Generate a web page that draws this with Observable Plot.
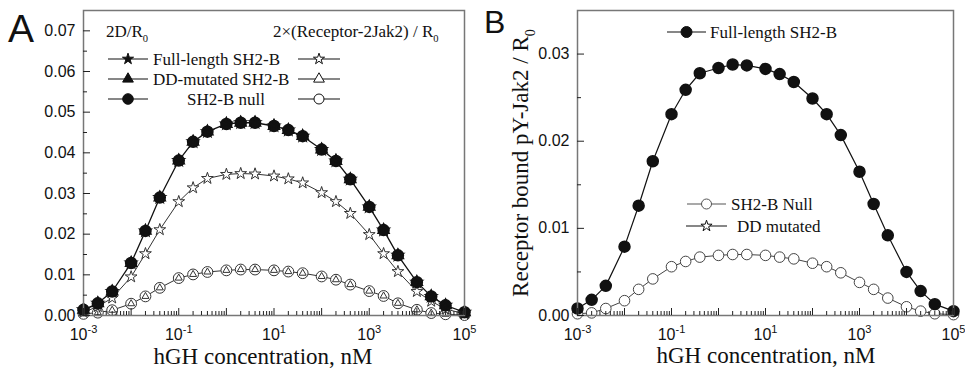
<!DOCTYPE html>
<html>
<head>
<meta charset="utf-8">
<script src="https://cdn.jsdelivr.net/npm/d3@7"></script>
<script src="https://cdn.jsdelivr.net/npm/@observablehq/plot@0.6"></script>
<style>
  html, body { margin: 0; padding: 0; background: #fff; }
  #wrap { position: relative; width: 965px; height: 377px; overflow: hidden; background: #fff; }
  #A, #B { position: absolute; top: 0; }
  #A { left: 0; }
  #B { left: 480px; }
  #overlay { position: absolute; left: 0; top: 0; pointer-events: none; }
</style>
</head>
<body>
<div id="wrap">
  <div id="A"></div>
  <div id="B"></div>
  <svg id="overlay" width="965" height="377"></svg>
</div>
<script>
// ---- data ----
const conc = [1e-3, 2e-3, 4e-3, 1e-2, 2e-2, 4e-2, 0.1, 0.2, 0.4, 1, 2, 4, 10, 20, 40, 100, 200, 400, 1000, 2000, 4000, 1e4, 2e4, 4e4, 1e5];

// Panel A: 2D/R0 (filled symbols; the three curves coincide)
const aFull2D = [0.0014, 0.0030, 0.0059, 0.0129, 0.0208, 0.0290, 0.0381, 0.0427, 0.0452, 0.0471, 0.0474, 0.0474, 0.0466, 0.0456, 0.0441, 0.0408, 0.0380, 0.0335, 0.0267, 0.0210, 0.0148, 0.0082, 0.0047, 0.0025, 0.0008];
const aDD2D   = [0.0014, 0.0030, 0.0059, 0.0129, 0.0208, 0.0290, 0.0381, 0.0427, 0.0452, 0.0471, 0.0474, 0.0474, 0.0466, 0.0456, 0.0441, 0.0408, 0.0380, 0.0335, 0.0267, 0.0210, 0.0148, 0.0082, 0.0047, 0.0025, 0.0008];
const aNull2D = [0.0014, 0.0030, 0.0059, 0.0129, 0.0208, 0.0290, 0.0381, 0.0427, 0.0452, 0.0471, 0.0474, 0.0474, 0.0466, 0.0456, 0.0441, 0.0408, 0.0380, 0.0335, 0.0267, 0.0210, 0.0148, 0.0082, 0.0047, 0.0025, 0.0008];
// Panel A: 2x(Receptor-2Jak2)/R0 (open symbols)
const aFullRJ = [0.0008, 0.0022, 0.0043, 0.0095, 0.0152, 0.0211, 0.0280, 0.0314, 0.0337, 0.0347, 0.0349, 0.0348, 0.0343, 0.0336, 0.0326, 0.0302, 0.0280, 0.0251, 0.0199, 0.0152, 0.0108, 0.0059, 0.0035, 0.0016, 0.0004];
const aDDRJ   = [0.0004, 0.0007, 0.0013, 0.0029, 0.0047, 0.0068, 0.0092, 0.0101, 0.0107, 0.0111, 0.0113, 0.0113, 0.0111, 0.0108, 0.0104, 0.0096, 0.0088, 0.0076, 0.0060, 0.0048, 0.0030, 0.0014, 0.0006, 0.0003, 0.0001];
const aNullRJ = [0.0004, 0.0007, 0.0013, 0.0029, 0.0047, 0.0068, 0.0092, 0.0101, 0.0107, 0.0111, 0.0113, 0.0113, 0.0111, 0.0108, 0.0104, 0.0096, 0.0088, 0.0076, 0.0060, 0.0048, 0.0030, 0.0014, 0.0006, 0.0003, 0.0001];

// Panel B: Receptor bound pY-Jak2 / R0
const bFull = [0.0008, 0.0018, 0.0034, 0.0079, 0.0126, 0.0177, 0.0231, 0.0259, 0.0278, 0.0284, 0.0288, 0.0287, 0.0283, 0.0277, 0.0268, 0.0249, 0.0231, 0.0207, 0.0165, 0.0128, 0.0092, 0.0050, 0.0028, 0.0013, 0.0005];
const bNull = [0.0002, 0.0003, 0.0008, 0.0017, 0.0030, 0.0042, 0.0056, 0.0062, 0.0067, 0.0069, 0.0070, 0.0070, 0.0069, 0.0067, 0.0065, 0.0060, 0.0056, 0.0049, 0.0038, 0.0030, 0.0020, 0.0010, 0.0005, 0.0002, 0.0001];

// ticks
const xDecades = [1e-3, 1e-2, 1e-1, 1, 10, 100, 1000, 1e4, 1e5];
const xMinor = [2, 3, 4, 5, 6, 7, 8, 9];
const yTicksA = [0, 0.01, 0.02, 0.03, 0.04, 0.05, 0.06, 0.07];
const yMinorA = [0.005, 0.015, 0.025, 0.035, 0.045, 0.055, 0.065];
const yTicksB = [0, 0.01, 0.02, 0.03];
const yMinorB = [0.005, 0.015, 0.025];

// ---- helpers ----
const series = vals => conc.map((c, i) => ({c, v: vals[i]}));
const minorXTicks = xDecades.slice(0, -1).flatMap(d => xMinor.map(m => m * d));
const fmtExp = d => { const e = Math.round(Math.log10(d)); return e % 2 !== 0 ? `10^${e}` : ""; };
const SANS = "'Liberation Sans', Arial, Helvetica, sans-serif";
const SERIF = "'Liberation Serif', 'Times New Roman', Times, serif";

function axes(yTicks, yMinor) {
  return [
    Plot.axisY({ticks: yTicks, tickSize: -7, tickPadding: 15, tickFormat: d3.format(".2f"), label: null, stroke: "#222"}),
    Plot.axisY({ticks: yMinor, tickSize: -4, tickFormat: () => "", label: null, stroke: "#222"}),
    Plot.axisX({ticks: xDecades, tickSize: -7, tickPadding: 20, tickFormat: fmtExp, label: null, stroke: "#222"}),
    Plot.axisX({ticks: minorXTicks, tickSize: -4, tickFormat: () => "", label: null, stroke: "#222"})
  ];
}

function supify(svg) {
  d3.select(svg).selectAll("text").each(function () {
    const m = /^10\^(-?\d+)$/.exec(this.textContent);
    if (m) {
      const s = d3.select(this);
      s.text("10");
      s.append("tspan").attr("dy", "-0.6em").attr("font-size", "11px").text(m[1]);
    }
  });
}

const style = `font-family:${SANS};font-size:16px;background:#fff;overflow:visible;color:#111`;

// marker sizes (Plot r → symbol area π r²)
const R_STAR_OPEN = 3.7, R_STAR_FILL = 3.4, R_TRI_FILL = 4.1, R_TRI_OPEN = 2.6;

// ---- Panel A ----
const plotA = Plot.plot({
  width: 480, height: 377,
  marginLeft: 83, marginRight: 16, marginTop: 10, marginBottom: 62,
  style,
  x: {type: "log", domain: [1e-3, 1e5]},
  y: {domain: [0, 0.075]},
  marks: [
    Plot.line(series(aNullRJ), {x: "c", y: "v", stroke: "#333", strokeWidth: 1}),
    Plot.dot(series(aNullRJ), {x: "c", y: "v", symbol: "circle", r: 5.4, fill: "white", stroke: "#333", strokeWidth: 1}),
    Plot.dot(series(aDDRJ), {x: "c", y: "v", symbol: "triangle", r: R_TRI_OPEN, fill: "none", stroke: "#333", strokeWidth: 1}),
    Plot.line(series(aFullRJ), {x: "c", y: "v", stroke: "#333", strokeWidth: 1}),
    Plot.dot(series(aFullRJ), {x: "c", y: "v", symbol: "star", r: R_STAR_OPEN, fill: "white", stroke: "#333", strokeWidth: 1}),
    Plot.line(series(aFull2D), {x: "c", y: "v", stroke: "#111", strokeWidth: 1.3}),
    Plot.dot(series(aNull2D), {x: "c", y: "v", symbol: "circle", r: 5.5, fill: "#111", stroke: "#111"}),
    Plot.dot(series(aDD2D), {x: "c", y: "v", symbol: "triangle", r: R_TRI_FILL, fill: "#111", stroke: "#111"}),
    Plot.dot(series(aFull2D), {x: "c", y: "v", symbol: "star", r: R_STAR_FILL, fill: "#111", stroke: "#111"}),
    Plot.frame({stroke: "#777", strokeWidth: 1.5}),
    ...axes(yTicksA, yMinorA)
  ]
});
supify(plotA);
document.getElementById("A").append(plotA);

// ---- Panel B ----
const plotB = Plot.plot({
  width: 485, height: 377,
  marginLeft: 97, marginRight: 12, marginTop: 10, marginBottom: 62,
  style,
  x: {type: "log", domain: [1e-3, 1e5]},
  y: {domain: [0, 0.035]},
  marks: [
    Plot.line(series(bNull), {x: "c", y: "v", stroke: "#444", strokeWidth: 1}),
    Plot.dot(series(bNull), {x: "c", y: "v", symbol: "circle", r: 5.3, fill: "white", stroke: "#444", strokeWidth: 1}),
    Plot.line(series(bFull), {x: "c", y: "v", stroke: "#111", strokeWidth: 1.2}),
    Plot.dot(series(bFull), {x: "c", y: "v", symbol: "circle", r: 5.5, fill: "#111", stroke: "#111"}),
    Plot.frame({stroke: "#777", strokeWidth: 1.5}),
    ...axes(yTicksB, yMinorB)
  ]
});
supify(plotB);
document.getElementById("B").append(plotB);

// ---- overlay: panel letters, axis titles, legends ----
const ov = d3.select("#overlay");
const sym = {circle: d3.symbolCircle, triangle: d3.symbolTriangle, star: d3.symbolStar};

function text(x, y, parts, {size = 17, family = SERIF, anchor = "start", rotate = null} = {}) {
  const t = ov.append("text").attr("x", x).attr("y", y)
    .attr("font-family", family).attr("font-size", size).attr("fill", "#111")
    .attr("text-anchor", anchor);
  if (rotate !== null) t.attr("transform", `rotate(${rotate},${x},${y})`);
  for (const p of parts) {
    if (typeof p === "string") t.append("tspan").text(p);
    else t.append("tspan").attr("font-size", size * 0.62).attr("dy", p.dy).text(p.t);
  }
  return t;
}
const R0 = (size) => [{t: "0", dy: size * 0.3}];

function sample(x1, x2, cy, type, r, filled, stroke = "#111") {
  ov.append("line").attr("x1", x1).attr("x2", x2).attr("y1", cy).attr("y2", cy)
    .attr("stroke", stroke).attr("stroke-width", 1.2);
  ov.append("path").attr("transform", `translate(${(x1 + x2) / 2},${cy})`)
    .attr("d", d3.symbol(sym[type], Math.PI * r * r)())
    .attr("fill", filled ? "#111" : "white").attr("stroke", stroke).attr("stroke-width", 1);
}

// Panel letters
text(8, 42, ["A"], {size: 39, family: SANS});
text(484, 33, ["B"], {size: 32, family: SANS});

// Axis titles
text(263, 364, ["hGH concentration, nM"], {size: 23, anchor: "middle"});
text(766, 363, ["hGH concentration, nM"], {size: 23, anchor: "middle"});
text(528, 163, ["Receptor bound pY-Jak2 / R", ...R0(23)], {size: 23, anchor: "middle", rotate: -90});

// Legend A
text(106, 37, ["2D/R", ...R0(17)]);
text(273, 37, ["2\u00d7(Receptor-2Jak2) / R", ...R0(17)]);
sample(108, 148, 59, "star", 3.5, true);
sample(298, 340, 59, "star", 3.5, false);
text(153, 65, ["Full-length SH2-B"]);
sample(108, 148, 79, "triangle", 4, true);
sample(298, 340, 79, "triangle", 4, false);
text(153, 85, ["DD-mutated SH2-B"]);
sample(108, 148, 99, "circle", 5.3, true);
sample(298, 340, 99, "circle", 5, false);
text(226, 105, ["SH2-B null"], {anchor: "middle"});

// Legend B
sample(667, 706, 32, "circle", 5.5, true);
text(710, 38, ["Full-length SH2-B"]);
sample(687, 726, 204, "circle", 5, false, "#555");
text(731, 210, ["SH2-B Null"]);
sample(686, 727, 226, "star", 3.5, false);
text(737, 232, ["DD mutated"]);
</script>
</body>
</html>
